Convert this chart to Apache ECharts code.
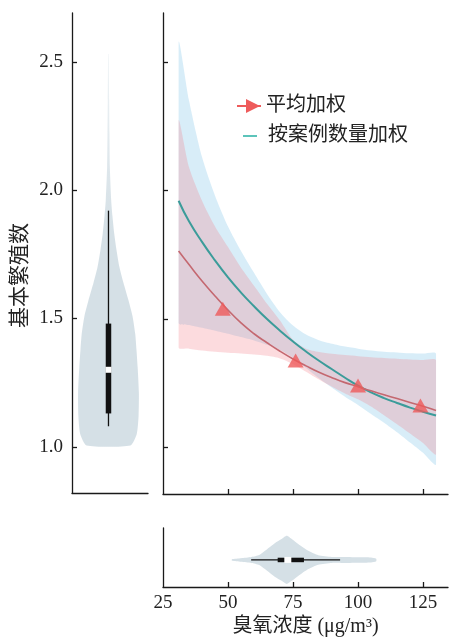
<!DOCTYPE html>
<html>
<head>
<meta charset="utf-8">
<script src="https://cdn.jsdelivr.net/npm/echarts@6/dist/echarts.min.js"></script>
<style>html,body{margin:0;padding:0;background:#fff;}#c{width:449px;height:639px;}</style>
</head>
<body>
<div id="c"></div>
<script>
// ---- main panel data (ozone concentration vs R0) ----
const xs        = [31, 35, 40, 45, 50, 55, 60, 65, 70, 75, 80, 85, 90, 95, 100, 105, 110, 115, 120, 125, 130];
const tealMean  = [1.96, 1.88, 1.80, 1.728, 1.662, 1.603, 1.55, 1.50, 1.455, 1.413, 1.374, 1.338, 1.305, 1.272, 1.241, 1.215, 1.193, 1.174, 1.156, 1.14, 1.125];
const tealUpper = [2.575, 2.35, 2.13, 1.98, 1.86, 1.765, 1.68, 1.598, 1.527, 1.475, 1.44, 1.418, 1.404, 1.393, 1.385, 1.378, 1.373, 1.37, 1.367, 1.366, 1.365];
const tealLower = [1.485, 1.477, 1.466, 1.455, 1.443, 1.43, 1.417, 1.40, 1.38, 1.35, 1.31, 1.27, 1.233, 1.198, 1.166, 1.131, 1.097, 1.06, 1.02, 0.98, 0.935];
const redMean   = [1.765, 1.712, 1.648, 1.59, 1.535, 1.485, 1.443, 1.408, 1.375, 1.345, 1.318, 1.293, 1.272, 1.253, 1.237, 1.221, 1.206, 1.191, 1.176, 1.161, 1.145];
const redUpper  = [2.27, 2.09, 1.96, 1.86, 1.78, 1.70, 1.63, 1.56, 1.495, 1.42, 1.385, 1.372, 1.365, 1.36, 1.356, 1.352, 1.349, 1.346, 1.343, 1.341, 1.339];
const redLower  = [1.39, 1.385, 1.378, 1.373, 1.369, 1.366, 1.362, 1.357, 1.347, 1.325, 1.295, 1.265, 1.237, 1.211, 1.188, 1.16, 1.126, 1.091, 1.055, 1.018, 0.975];
const markX     = [48, 76, 100, 124];
const markY     = [1.54, 1.339, 1.242, 1.164];

// ---- left violin (R0 distribution) ----
const leftViolinY = [1.005, 1.05, 1.12, 1.21, 1.31, 1.38, 1.44, 1.51, 1.57, 1.64, 1.70, 1.77, 1.83, 1.90, 1.96, 2.09, 2.22, 2.35, 2.53];
const leftViolinW = [0.72, 0.93, 0.99, 1.0, 0.96, 0.92, 0.88, 0.79, 0.66, 0.49, 0.36, 0.26, 0.19, 0.13, 0.09, 0.045, 0.033, 0.023, 0.01];
const leftBox = [1.08, 1.13, 1.30, 1.48, 1.92]; // whisker low, q1, median, q3, whisker high

// ---- bottom violin (ozone distribution) ----
const bottomViolinX = [51.5, 55, 59, 62, 64.2, 68.1, 70.6, 72.6, 74.5, 77, 80.9, 84.7, 89.9, 93.7, 100, 105, 107];
const bottomViolinW = [0.03, 0.07, 0.12, 0.2, 0.37, 0.69, 0.85, 0.98, 0.85, 0.65, 0.37, 0.19, 0.12, 0.12, 0.11, 0.1, 0.05];
const bottomBox = [58.9, 69.1, 73.0, 79.2, 93.1];

// ---- tick labels ----
const yTicks = [1.0, 1.5, 2.0, 2.5];
const xTicks = [25, 50, 75, 100, 125];
const xTickMarks = [50, 75, 100, 125];

const seriesName1 = '平均加权';
const seriesName2 = '按案例数量加权';

const serif = '"Liberation Serif", "DejaVu Serif", serif';
const cjk = '"Liberation Serif", "Noto Sans CJK SC", serif';
const axisColor = '#1a1a1a';
const violinColor = '#d5e0e6';

function pairs(a, b) { return a.map((v, i) => [v, b[i]]); }

function bandRender(upper, lower, color) {
  return function (params, api) {
    const pts = [];
    for (let i = 0; i < xs.length; i++) pts.push(api.coord([xs[i], upper[i]]));
    for (let i = xs.length - 1; i >= 0; i--) pts.push(api.coord([xs[i], lower[i]]));
    const a = api.coord([xs[0], 3]), b = api.coord([xs[xs.length - 1], 0.5]);
    return { type: 'polygon', shape: { points: pts, smooth: 0.25, smoothConstraint: [[a[0], a[1]], [b[0], b[1]]] }, style: { fill: color } };
  };
}

function vViolinRender(params, api) {
  const c = 0;
  const pts = [];
  for (let i = 0; i < leftViolinY.length; i++) pts.push(api.coord([c + leftViolinW[i], leftViolinY[i]]));
  for (let i = leftViolinY.length - 1; i >= 0; i--) pts.push(api.coord([c - leftViolinW[i], leftViolinY[i]]));
  const wl = api.coord([c, leftBox[0]]), q1 = api.coord([c, leftBox[1]]), md = api.coord([c, leftBox[2]]),
        q3 = api.coord([c, leftBox[3]]), wh = api.coord([c, leftBox[4]]);
  const bw = 5.5;
  return { type: 'group', children: [
    { type: 'polygon', shape: { points: pts, smooth: 0.2 }, style: { fill: {
      type: 'linear', x: 0, y: 0, x2: 0, y2: 1,
      colorStops: [{ offset: 0, color: '#f1f5f7' }, { offset: 0.3, color: '#dde6eb' }, { offset: 0.45, color: violinColor }, { offset: 1, color: violinColor }] } } },
    { type: 'line', shape: { x1: wl[0], y1: wl[1], x2: wh[0], y2: wh[1] }, style: { stroke: '#111', lineWidth: 1.3 } },
    { type: 'rect', shape: { x: q3[0] - bw / 2, y: q3[1], width: bw, height: q1[1] - q3[1] }, style: { fill: '#111' } },
    { type: 'rect', shape: { x: md[0] - 3, y: md[1] - 3, width: 6, height: 6 }, style: { fill: '#fff' } }
  ] };
}

function hViolinRender(params, api) {
  const c = 0;
  const pts = [];
  for (let i = 0; i < bottomViolinX.length; i++) pts.push(api.coord([bottomViolinX[i], c + bottomViolinW[i]]));
  for (let i = bottomViolinX.length - 1; i >= 0; i--) pts.push(api.coord([bottomViolinX[i], c - bottomViolinW[i]]));
  const wl = api.coord([bottomBox[0], c]), q1 = api.coord([bottomBox[1], c]), md = api.coord([bottomBox[2], c]),
        q3 = api.coord([bottomBox[3], c]), wh = api.coord([bottomBox[4], c]);
  const bh = 4.5;
  return { type: 'group', children: [
    { type: 'polygon', shape: { points: pts, smooth: 0.2 }, style: { fill: violinColor } },
    { type: 'line', shape: { x1: wl[0], y1: wl[1], x2: wh[0], y2: wh[1] }, style: { stroke: '#111', lineWidth: 1.3 } },
    { type: 'rect', shape: { x: q1[0], y: q1[1] - bh / 2, width: q3[0] - q1[0], height: bh }, style: { fill: '#111' } },
    { type: 'rect', shape: { x: md[0] - 3.5, y: md[1] - 3, width: 7, height: 6 }, style: { fill: '#fff' } }
  ] };
}

const chart = echarts.init(document.getElementById('c'), null, { renderer: 'canvas' });
const axisLine = { show: true, onZero: false, lineStyle: { color: axisColor, width: 1.3 } };
const tickIn = { show: true, inside: true, length: 5, lineStyle: { color: axisColor, width: 1.3 } };

const option = {
  backgroundColor: '#fff',
  animation: false,
  grid: [
    { left: 72, top: 13, width: 76, height: 480 },
    { left: 163, top: 13, width: 285, height: 481 },
    { left: 163, top: 528, width: 285, height: 59 }
  ],
  xAxis: [
    { gridIndex: 0, type: 'value', min: -1.2, max: 1.3, axisLine: axisLine, axisTick: { show: false }, axisLabel: { show: false }, splitLine: { show: false } },
    { gridIndex: 1, type: 'value', min: 25, max: 134.6, axisLine: axisLine,
      axisTick: Object.assign({}, tickIn, { customValues: xTickMarks }), axisLabel: { show: false }, splitLine: { show: false } },
    { gridIndex: 2, type: 'value', min: 25, max: 134.6, axisLine: axisLine,
      axisTick: Object.assign({}, tickIn, { customValues: xTickMarks }),
      axisLabel: { show: true, customValues: xTicks, color: '#222', fontFamily: serif, fontSize: 19, margin: 7 },
      splitLine: { show: false },
      name: '臭氧浓度 (μg/m³)', nameLocation: 'middle', nameGap: 30,
      nameTextStyle: { fontFamily: cjk, fontSize: 20, color: '#222' } }
  ],
  yAxis: [
    { gridIndex: 0, type: 'value', min: 0.82, max: 2.69, axisLine: axisLine,
      axisTick: Object.assign({}, tickIn, { customValues: yTicks }),
      axisLabel: { show: true, customValues: yTicks, formatter: v => v.toFixed(1), color: '#222', fontFamily: serif, fontSize: 19, margin: 9 },
      splitLine: { show: false } },
    { gridIndex: 1, type: 'value', min: 0.82, max: 2.69, axisLine: axisLine,
      axisTick: Object.assign({}, tickIn, { customValues: yTicks }), axisLabel: { show: false }, splitLine: { show: false } },
    { gridIndex: 2, type: 'value', min: -1.1, max: 1.3, axisLine: axisLine, axisTick: { show: false }, axisLabel: { show: false }, splitLine: { show: false } }
  ],
  legend: [
    { left: 237, top: 96, padding: 0, itemWidth: 24, itemHeight: 14, selectedMode: false,
      textStyle: { fontFamily: cjk, fontSize: 20, color: '#222' },
      data: [{ name: seriesName1, icon: 'path://M0,6h24v2H0z M9,0L23,7L9,14z', itemStyle: { color: '#ee5b5b' } }] },
    { left: 243, top: 126, padding: 0, itemWidth: 14, itemHeight: 2, selectedMode: false,
      textStyle: { fontFamily: cjk, fontSize: 20, color: '#222', padding: [0, 0, 0, 6] },
      data: [{ name: seriesName2, icon: 'rect', itemStyle: { color: '#5cc4ba' } }] }
  ],
  graphic: [
    { type: 'text', left: 10, top: 223, style: { text: '基本繁殖数', fontFamily: cjk, fontSize: 21, fill: '#222' }, rotation: Math.PI / 2, originX: 0, originY: 0 }
  ],
  series: [
    { type: 'custom', name: 'leftViolin', xAxisIndex: 0, yAxisIndex: 0, data: [[0, 1.3]], renderItem: vViolinRender, silent: true },
    { type: 'custom', name: 'bottomViolin', xAxisIndex: 2, yAxisIndex: 2, data: [[73, 0]], renderItem: hViolinRender, silent: true },
    { type: 'custom', name: 'tealBand', xAxisIndex: 1, yAxisIndex: 1, data: [[75, 1.4]], renderItem: bandRender(tealUpper, tealLower, 'rgba(110,190,228,0.27)'), silent: true },
    { type: 'custom', name: 'redBand', xAxisIndex: 1, yAxisIndex: 1, data: [[75, 1.4]], renderItem: bandRender(redUpper, redLower, 'rgba(244,122,132,0.27)'), silent: true },
    { type: 'line', name: seriesName2, xAxisIndex: 1, yAxisIndex: 1, data: pairs(xs, tealMean), smooth: true, symbol: 'none',
      lineStyle: { color: '#3b9c9a', width: 2 }, itemStyle: { color: '#3b9c9a' }, z: 3 },
    { type: 'line', name: seriesName1, xAxisIndex: 1, yAxisIndex: 1, data: pairs(xs, redMean), smooth: true, symbol: 'none',
      lineStyle: { color: '#c46870', width: 1.6 }, itemStyle: { color: '#c46870' }, z: 3 },
    { type: 'scatter', name: seriesName1, xAxisIndex: 1, yAxisIndex: 1, data: pairs(markX, markY), symbol: 'triangle', symbolSize: [16, 14],
      itemStyle: { color: '#ee5a5a' }, z: 4 }
  ]
};
chart.setOption(option);
</script>
</body>
</html>
